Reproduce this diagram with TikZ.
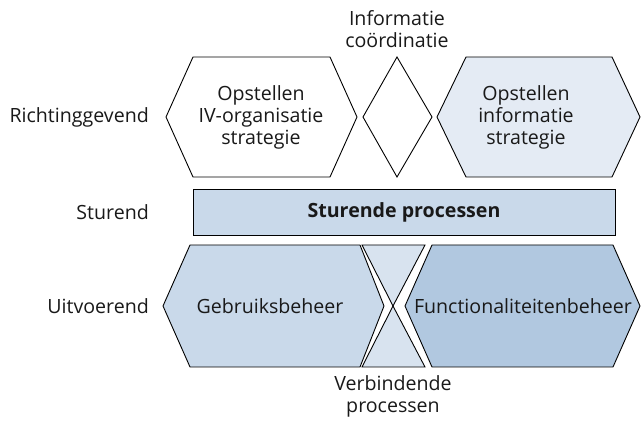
\documentclass[tikz,border=0pt]{standalone}
\usepackage{fontspec}
\setmainfont{Open Sans}
\usetikzlibrary{positioning}

\definecolor{paleblue}{HTML}{E4EBF4}
\definecolor{midblue}{HTML}{C9D9EA}
\definecolor{lightblue}{HTML}{D8E3EF}
\definecolor{darkblue}{HTML}{B1C8E0}

\begin{document}
\begin{tikzpicture}[
	x = 1pt, y = -1pt,
	every node/.style = {font=\fontsize{19.6}{22}\selectfont, text=black!90, align=center, inner sep=0pt},
	lab/.style = {anchor=east},
	block/.style = {draw, line width=0.9pt, line join=miter}
]
\useasboundingbox (0,0) rectangle (641,422);

% richtinggevend
\draw [block] (166,117) -- (193,57) -- (330,57) -- (357,117) -- (330,177) -- (193,177) -- cycle;
\draw [block] (363,117) -- (397,57) -- (432,117) -- (397,177) -- cycle;
\draw [block, fill=paleblue] (437,117) -- (466,57) -- (612,57) -- (640,117) -- (612,177) -- (466,177) -- cycle;
\node (ivorg) at (261,117) {Opstellen\\IV-organisatie\\strategie};
\node (infostr) at (526,117) {Opstellen\\informatie\\strategie};
\node (coord) at (397,29) {Informatie\\coördinatie};

% sturend
\draw [block, fill=midblue] (193,189) rectangle (615,235);
\node (sturend) at (404,212) {\bfseries Sturende processen};

% uitvoerend
\draw [block, fill=midblue] (163,306) -- (190,245) -- (360,245) -- (384,306) -- (360,367) -- (190,367) -- cycle;
\draw [block, fill=lightblue] (362,245) -- (425,245) -- (393,306) -- cycle;
\draw [block, fill=lightblue] (393,306) -- (425,367) -- (362,367) -- cycle;
\draw [block, fill=darkblue] (405,306) -- (432,245) -- (613,245) -- (640,306) -- (613,367) -- (432,367) -- cycle;
\node (gebruik) at (270,306) {Gebruiksbeheer};
\node (functie) at (523,306) {Functionaliteitenbeheer};
\node (verbind) at (393,396) {Verbindende\\processen};

% niveaus
\node [lab] (richting) at (149,117) {Richtinggevend};
\node [lab] (stuur) at (149,212) {Sturend};
\node [lab] (uitvoer) at (149,306) {Uitvoerend};
\end{tikzpicture}
\end{document}
